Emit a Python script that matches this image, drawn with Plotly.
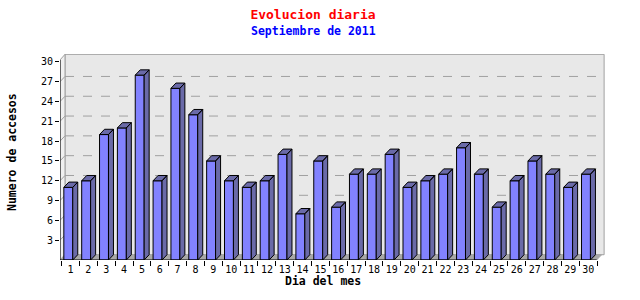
import plotly.graph_objects as go

# ---- data ----
days = list(range(1, 31))
accesos = [11, 12, 19, 20, 28, 12, 26, 22, 15, 12, 11, 12, 16, 7, 15, 8,
           13, 13, 16, 11, 12, 13, 17, 13, 8, 12, 15, 13, 11, 13]
y_ticks = [3, 6, 9, 12, 15, 18, 21, 24, 27, 30]
title_text = "Evolucion diaria"
subtitle_text = "Septiembre de 2011"
x_title = "Dia del mes"
y_title = "Numero de accesos"

# ---- geometry / style ----
W, H = 640, 300
L, R, T, B = 60, 35, 54, 40
XMIN, XMAX = 0.41, 30.47      # front plot area (x data)
YTOP = 30.3                   # top of front axis
DX, DY = 0.28, 0.8            # 3D depth in data units
X_RANGE = [XMIN, 30.94]
Y_RANGE = [0, 31.2]
BAR_OFF, BAR_W = -0.375, 0.5

FRONT = "#8282ff"
SIDE = "#6a6aa8"
WALL = "#e8e8e8"
GRID = "#a0a0a0"
FLOOR = "#a8a8a8"
MONO = "DejaVu Sans Mono"

pw, ph = W - L - R, H - T - B


def px_to_paper(x, y):
    return (x - L) / pw, (H - B - y) / ph


fig = go.Figure()

shapes = []
# back wall
shapes.append(dict(type="rect", xref="x", yref="y", x0=XMIN + DX, x1=XMAX + 0.42,
                   y0=DY, y1=YTOP + DY + 0.05, fillcolor=WALL,
                   line=dict(color=GRID, width=1), layer="below"))
# left wall
shapes.append(dict(type="path", xref="x", yref="y",
                   path=f"M{XMIN},0 L{XMIN + DX},{DY} L{XMIN + DX},{YTOP + DY + 0.05} L{XMIN},{YTOP} Z",
                   fillcolor="#f0f0f0", line=dict(color=GRID, width=1), layer="below"))
# floor
shapes.append(dict(type="path", xref="x", yref="y",
                   path=f"M{XMIN},0 L{XMIN + DX},{DY} L{XMAX + DX},{DY} L{XMAX},0 Z",
                   fillcolor=FLOOR, line=dict(color=FLOOR, width=1), layer="below"))
# grid lines on back wall + stubs on left wall
for v in y_ticks[:-1]:
    shapes.append(dict(type="line", xref="x", yref="y", x0=XMIN + DX, x1=XMAX + 0.42,
                       y0=v + DY, y1=v + DY, line=dict(color=GRID, width=1, dash="dash"),
                       layer="below"))
    shapes.append(dict(type="line", xref="x", yref="y", x0=XMIN, x1=XMIN + DX,
                       y0=v, y1=v + DY, line=dict(color=GRID, width=1), layer="below"))
# axis lines
shapes.append(dict(type="line", xref="x", yref="y", x0=XMIN, x1=XMIN, y0=0, y1=YTOP,
                   line=dict(color="black", width=1)))
shapes.append(dict(type="line", xref="x", yref="y", x0=XMIN, x1=XMAX, y0=0, y1=0,
                   line=dict(color="black", width=1)))

# front faces
fig.add_trace(go.Bar(x=days, y=accesos, width=BAR_W, offset=BAR_OFF,
                     marker=dict(color=FRONT, line=dict(color="black", width=1)),
                     hoverinfo="skip"))

# side + top faces
sx, sy = [], []
for d, v in zip(days, accesos):
    x0 = d + BAR_OFF
    x1 = x0 + BAR_W
    # side
    sx += [x1, x1 + DX, x1 + DX, x1, x1, None]
    sy += [0, DY, v + DY, v, 0, None]
    # top
    sx += [x0, x0 + DX, x1 + DX, x1, x0, None]
    sy += [v, v + DY, v + DY, v, v, None]
fig.add_trace(go.Scatter(x=sx, y=sy, mode="lines", fill="toself", fillcolor=SIDE,
                         line=dict(color="black", width=1), hoverinfo="skip",
                         connectgaps=False))

annotations = []
ax, ay = px_to_paper(313, 31)
annotations.append(dict(text=f"<b>{subtitle_text}</b>", xref="paper", yref="paper",
                        x=ax, y=ay, showarrow=False, xanchor="center", yanchor="middle",
                        font=dict(family=MONO, size=11.5, color="#0000ff")))
ax, ay = px_to_paper(323, 281)
annotations.append(dict(text=f"<b>{x_title}</b>", xref="paper", yref="paper",
                        x=ax, y=ay, showarrow=False, xanchor="center", yanchor="middle",
                        font=dict(family=MONO, size=11.5, color="black")))
ax, ay = px_to_paper(12, 152)
annotations.append(dict(text=f"<b>{y_title}</b>", xref="paper", yref="paper",
                        x=ax, y=ay, showarrow=False, xanchor="center", yanchor="middle",
                        textangle=-90,
                        font=dict(family=MONO, size=11.5, color="black")))

fig.update_layout(
    width=W, height=H,
    margin=dict(l=L, r=R, t=T, b=B, pad=0),
    paper_bgcolor="white", plot_bgcolor="white",
    showlegend=False,
    title=dict(text=f"<b>{title_text}</b>", xref="container", yref="container",
               x=313 / W, y=1 - 14 / H, xanchor="center", yanchor="middle",
               font=dict(family=MONO, size=13, color="#ff0000")),
    shapes=shapes,
    annotations=annotations,
    xaxis=dict(range=X_RANGE, showgrid=False, zeroline=False, showline=False,
               tickmode="array", tickvals=days, ticktext=[str(d) for d in days],
               ticks="", ticklabelstandoff=2,
               tickfont=dict(family=MONO, size=10, color="black"),
               minor=dict(tickmode="linear", tick0=0.5, dtick=1, ticks="outside",
                          ticklen=5, tickwidth=1, tickcolor="black", showgrid=False)),
    yaxis=dict(range=Y_RANGE, showgrid=False, zeroline=False, showline=False,
               tickmode="array", tickvals=y_ticks, ticks="outside", ticklen=4,
               tickcolor="black",
               tickfont=dict(family=MONO, size=10, color="black")),
)

fig.write_html("out.html")
